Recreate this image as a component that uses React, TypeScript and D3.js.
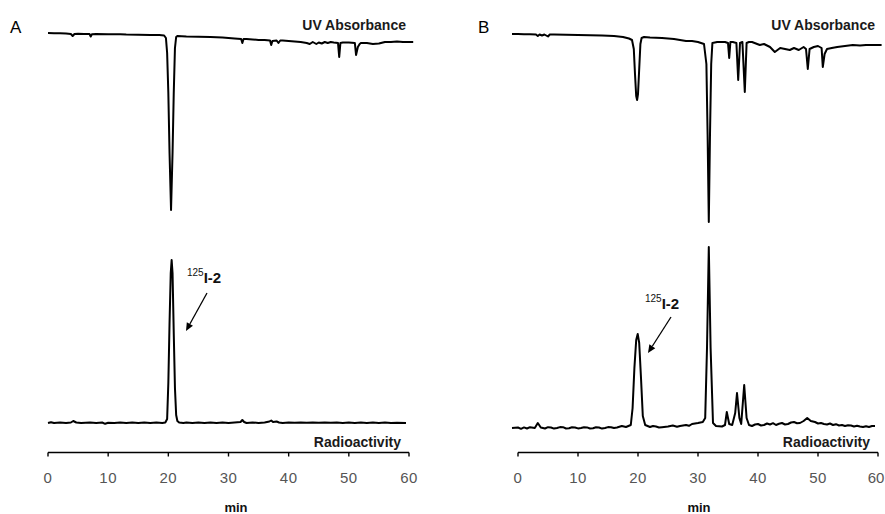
import React from "react";
import * as d3 from "d3";

// ---------- data (time in min, signal in arbitrary units) ----------
const tickValues = [0, 10, 20, 30, 40, 50, 60];

// Panel A – UV absorbance (peaks drawn downward)
const uvA_t = [0, 1, 2, 3, 3.8, 4.1, 4.4, 5, 6, 6.9, 7.1, 7.3, 8, 10, 12, 13, 15, 17, 18.5, 19.3, 19.6, 19.8, 20.0, 20.2, 20.45, 20.7, 20.9, 21.1, 21.3, 21.5, 23, 25, 27, 29, 30, 31, 32.1, 32.3, 32.5, 33, 34, 35, 36, 36.9, 37.1, 37.3, 38, 38.3, 38.6, 39, 40, 41, 42, 43, 43.5, 44, 44.6, 45, 45.5, 46, 46.5, 47, 47.5, 48.2, 48.4, 48.6, 49, 50, 51, 51.2, 51.5, 51.8, 52, 53, 54, 55, 56, 57, 58, 59, 60, 60.7];
const uvA_v = [0, 0.3, 0.2, 0.5, 1, 3, 1, 0.8, 1, 1, 3.5, 1.2, 1, 1.2, 1.2, 1.5, 1.8, 2, 2, 2.5, 5, 20, 60, 120, 177, 120, 60, 15, 4, 3, 3.5, 3.8, 4, 4.5, 5, 5.5, 6, 10, 6, 6, 6.5, 7, 7, 7.5, 12, 8, 7.5, 10, 7.5, 7.5, 8, 8.5, 9, 10, 11, 9, 11, 9.5, 10.5, 9, 10, 9, 9.5, 10, 24, 10, 9.5, 9.5, 10, 22, 14, 11, 10, 10, 11, 10.5, 9, 9, 8.5, 9, 9, 9];

// Panel A – radioactivity
const radA_t = [0, 0.5, 1, 2, 3, 3.8, 4.2, 4.7, 5.5, 7, 8, 9, 9.5, 10, 11, 12, 13, 14, 15, 16, 17, 18, 19, 19.5, 19.8, 20.0, 20.2, 20.4, 20.55, 20.7, 20.9, 21.1, 21.3, 21.5, 21.8, 22.5, 23, 24, 25, 26, 27, 28, 29, 30, 31, 32, 32.3, 32.6, 33, 34, 35, 36, 36.8, 37.1, 37.4, 38, 38.4, 39, 40, 41, 42, 43, 44, 45, 46, 47, 48, 49, 50, 51, 52, 53, 54, 55, 56, 57, 58, 59.5];
const radA_v = [0, 0.8, 0, 0.5, 0, 0.5, 2, 0.5, 0, 0.6, 0, 0.5, -0.8, 0.3, 0, 0.6, 0, 0.5, 0, 0.6, 0, 0.5, 0, 0.5, 4, 40, 100, 150, 163, 150, 90, 35, 8, 2, 0.5, 0, 0.6, 0, 0.5, 0, 0.6, 0, 0.5, 0, 0.5, 1, 3, 1, 0, 0.5, 0, 0.5, 1.5, 2.5, 1, 1.5, 0.5, 0, 0.5, 0.3, 0.6, 0.2, 0.6, 0.3, 0.6, 0.2, 0.5, 0, 0.5, 0, 0.4, 0, 0.5, 0, 0.4, 0, 0.3, 0];

// Panel B – UV absorbance
const uvB_t = [-1, 0, 1, 2, 3.0, 3.3, 3.6, 4.0, 4.4, 5.0, 5.3, 6, 8, 10, 12, 14, 16, 17.5, 18.5, 19.0, 19.3, 19.5, 19.7, 19.85, 20.0, 20.2, 20.4, 20.6, 21, 22, 24, 26, 27, 28, 29, 30, 31.0, 31.4, 31.6, 31.8, 32.0, 32.2, 32.4, 33.2, 34.5, 35.0, 35.2, 35.4, 35.8, 36.4, 36.7, 37.0, 37.4, 37.8, 38.1, 38.5, 39, 40.3, 41, 42, 42.8, 43.7, 44.5, 45.3, 46, 46.8, 47.6, 48.0, 48.3, 48.6, 49.3, 50, 50.6, 50.8, 51.1, 51.5, 52.3, 53.2, 54.5, 55.8, 57, 58, 59, 60.3, 60.6];
const uvB_v = [0, 0, 0.2, 0.3, 0.5, 2, 0.5, 1.5, 0.5, 2.5, 0.5, 0.5, 0.8, 1, 1.2, 1.5, 2, 3, 4.5, 6, 15, 40, 62, 66, 60, 35, 10, 4, 3, 3.5, 4, 5, 6, 7, 7, 8, 10, 30, 100, 188, 100, 30, 9, 8, 8, 9, 24, 8, 8, 9, 46, 9, 8, 58, 9, 8, 8, 11, 10, 13, 18, 14, 15, 16, 14, 16, 13, 15, 35, 15, 13, 12, 14, 33, 20, 15, 14, 13, 12, 11, 11.5, 11, 11, 11, 11];

// Panel B – radioactivity
const radB_t = [-1, 0, 0.5, 1, 1.5, 2, 2.8, 3.3, 3.8, 4.5, 5, 5.5, 6, 6.5, 7, 7.5, 8, 8.5, 9, 9.5, 10, 10.5, 11, 11.5, 12, 12.5, 13, 13.5, 14, 14.5, 15, 15.5, 16, 16.5, 17.3, 18, 18.8, 19.1, 19.4, 19.7, 19.95, 20.2, 20.5, 20.8, 21.2, 22, 22.5, 23, 23.5, 24, 25, 25.8, 26.5, 27, 28, 28.5, 29, 30, 30.8, 31.2, 31.5, 31.8, 32.1, 32.5, 33, 34, 34.5, 34.8, 35.2, 35.7, 36.2, 36.5, 36.9, 37.2, 37.7, 38.1, 38.5, 39, 39.5, 40, 40.5, 41, 41.5, 42, 42.5, 43, 43.5, 44, 44.5, 45, 45.5, 46, 46.5, 47, 47.6, 48.2, 48.8, 49.5, 50, 50.5, 51, 51.5, 52, 52.5, 53, 53.5, 54, 54.5, 55, 55.5, 56, 56.5, 57, 57.5, 58, 58.5, 59, 59.5];
const radB_v = [0, 0.5, -0.8, 0.6, -0.5, 0.8, 0, 5, 0.5, -0.5, 0.8, 0.5, -0.6, 0, 0.9, 0.8, -0.5, -0.3, 0.7, 0.5, -0.4, 0, 0.8, 0.6, -0.5, -0.3, 0.7, 0.5, -0.6, 0, 0.9, 0.8, 0, 0.5, 2, 1, 3, 20, 60, 88, 94, 85, 50, 12, 3, 1, 2, 1.5, 0.5, 0.8, 1.5, 2.5, 1.2, 2, 3, 2.2, 4, 5, 6, 10, 80, 181, 80, 5, 2, 1.5, 3, 16, 4, 3, 15, 35, 10, 4, 43, 10, 3, 2, 3.5, 4, 2.5, 3, 4.5, 3.5, 4.8, 3, 4.2, 5, 3.5, 4, 5.5, 6, 4.8, 5, 7, 10, 7, 6, 4.5, 5, 4, 3.5, 4.5, 3, 3.8, 2.5, 3, 2, 2.8, 2.5, 1.5, 2.2, 1.5, 1, 1.8, 1, 2, 2];

// ---------- layout ----------
type Panel = {
  letter: string;
  letterX: number;
  xRange: [number, number];
  uvBase: number;
  radBase: number;
  uvT: number[];
  uvV: number[];
  radT: number[];
  radV: number[];
  minX: number;
  label: { x: number; y: number; ax1: number; ay1: number; ax2: number; ay2: number };
};

const panels: Panel[] = [
  {
    letter: "A",
    letterX: 10,
    xRange: [48, 409],
    uvBase: 33,
    radBase: 423,
    uvT: uvA_t,
    uvV: uvA_v,
    radT: radA_t,
    radV: radA_v,
    minX: 236,
    label: { x: 187, y: 283, ax1: 207, ay1: 293, ax2: 186, ay2: 331 },
  },
  {
    letter: "B",
    letterX: 478,
    xRange: [518, 878],
    uvBase: 34,
    radBase: 428,
    uvT: uvB_t,
    uvV: uvB_v,
    radT: radB_t,
    radV: radB_v,
    minX: 699,
    label: { x: 645, y: 309, ax1: 671, ay1: 317, ax2: 648, ay2: 353 },
  },
];

const FONT = "'Liberation Sans', Arial, sans-serif";
const AXIS_Y = 452.5;

function PanelView({ p }: { p: Panel }) {
  const x = d3.scaleLinear().domain([0, 60]).range(p.xRange);
  const yUV = d3.scaleLinear().domain([0, 100]).range([p.uvBase, p.uvBase + 100]);
  const yRad = d3.scaleLinear().domain([0, 100]).range([p.radBase, p.radBase - 100]);

  const uvPts: [number, number][] = p.uvT.map((t, i) => [t, p.uvV[i]]);
  const radPts: [number, number][] = p.radT.map((t, i) => [t, p.radV[i]]);

  const uvLine = d3
    .line<[number, number]>()
    .x((d) => x(d[0]))
    .y((d) => yUV(d[1]));
  const radLine = d3
    .line<[number, number]>()
    .x((d) => x(d[0]))
    .y((d) => yRad(d[1]));

  const [r0, r1] = p.xRange;
  const L = p.label;
  const ang = Math.atan2(L.ay2 - L.ay1, L.ax2 - L.ax1);
  const hl = 8;
  const hw = 3.5;
  const bx = L.ax2 - hl * Math.cos(ang);
  const by = L.ay2 - hl * Math.sin(ang);
  const head = [
    [L.ax2, L.ay2],
    [bx + hw * Math.sin(ang), by - hw * Math.cos(ang)],
    [bx - hw * Math.sin(ang), by + hw * Math.cos(ang)],
  ]
    .map((q) => q.join(","))
    .join(" ");

  return (
    <g>
      <text x={p.letterX} y={33} fontFamily={FONT} fontSize={17} fill="#000">
        {p.letter}
      </text>
      <text x={r1 - 3} y={30} fontFamily={FONT} fontSize={14} fontWeight="bold" textAnchor="end" fill="#1a1a1a">
        UV Absorbance
      </text>
      <path d={uvLine(uvPts) || ""} fill="none" stroke="#000" strokeWidth={2} strokeLinejoin="round" />
      <path d={radLine(radPts) || ""} fill="none" stroke="#000" strokeWidth={2} strokeLinejoin="round" />
      <text x={r1 - 8} y={447} fontFamily={FONT} fontSize={14} fontWeight="bold" textAnchor="end" fill="#1a1a1a">
        Radioactivity
      </text>
      {/* axis */}
      <line x1={r0} x2={r1} y1={AXIS_Y} y2={AXIS_Y} stroke="#000" strokeWidth={1.6} />
      {tickValues.map((v) => (
        <g key={v}>
          <line x1={x(v)} x2={x(v)} y1={AXIS_Y} y2={AXIS_Y + 4} stroke="#000" strokeWidth={1.4} />
          <text
            x={x(v) + (v === 60 && p.letter === "B" ? -2 : 0)}
            y={483}
            fontFamily={FONT}
            fontSize={15}
            textAnchor="middle"
            fill="#555"
            letterSpacing={v === 60 && p.letter === "B" ? 0 : 0.5}
          >
            {v}
          </text>
        </g>
      ))}
      <text x={p.minX} y={512} fontFamily={FONT} fontSize={13} fontWeight="bold" textAnchor="middle" fill="#111">
        min
      </text>
      {/* peak annotation */}
      <text x={L.x} y={L.y} fontFamily={FONT} fill="#111">
        <tspan fontSize={10} dy={-7}>125</tspan>
        <tspan fontSize={15} fontWeight="bold" dy={7}>I-2</tspan>
      </text>
      <line x1={L.ax1} y1={L.ay1} x2={bx} y2={by} stroke="#000" strokeWidth={1.3} />
      <polygon points={head} fill="#000" />
    </g>
  );
}

export default function App() {
  return (
    <svg width={885} height={514} style={{ position: "absolute", left: 0, top: 0, background: "#fff" }}>
      <rect width={885} height={514} fill="#fff" />
      {panels.map((p) => (
        <PanelView key={p.letter} p={p} />
      ))}
    </svg>
  );
}
